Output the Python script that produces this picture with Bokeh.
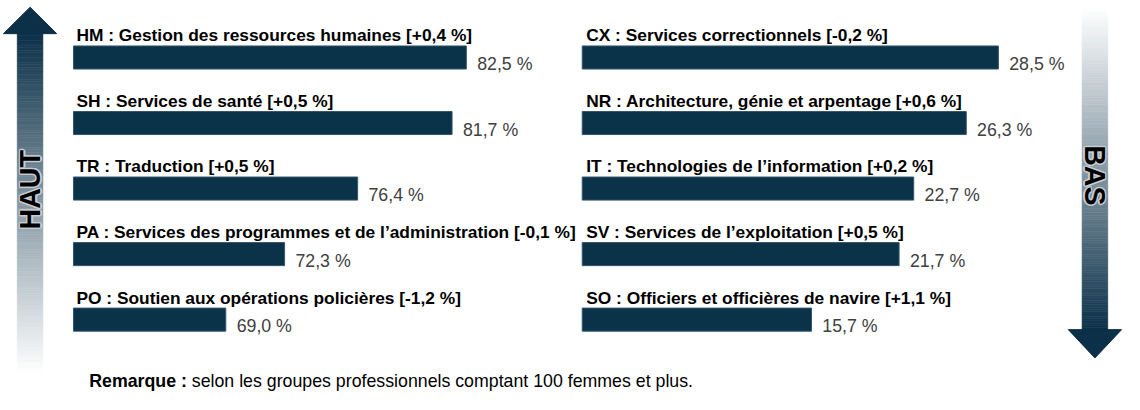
import numpy as np
from bokeh.plotting import figure
from bokeh.models import Range1d
from bokeh.core.properties import value
from bokeh.embed import file_html
from bokeh.resources import INLINE

# ---------------- data ----------------
left_codes = ["HM", "SH", "TR", "PA", "PO"]
left_names = ["Gestion des ressources humaines", "Services de santé", "Traduction",
              "Services des programmes et de l’administration",
              "Soutien aux opérations policières"]
left_values = [82.5, 81.7, 76.4, 72.3, 69.0]
left_changes = ["+0,4", "+0,5", "+0,5", "-0,1", "-1,2"]

right_codes = ["CX", "NR", "IT", "SV", "SO"]
right_names = ["Services correctionnels", "Architecture, génie et arpentage",
               "Technologies de l’information", "Services de l’exploitation",
               "Officiers et officières de navire"]
right_values = [28.5, 26.3, 22.7, 21.7, 15.7]
right_changes = ["-0,2", "+0,6", "+0,2", "+0,5", "+1,1"]

up_label = "HAUT"
down_label = "BAS"
note_bold = "Remarque :"
note_text = "selon les groupes professionnels comptant 100 femmes et plus."

# ---------------- style / layout ----------------
FONT = value("Liberation Sans")
BAR = "#0a3249"
DARK = (11, 48, 72)
W, H = 1124, 394            # canvas size in screen px
RW, RH = 1140, 410          # layout units used for placement
SX, SY = W / RW, H / RH


def fs(px):
    return f"{px * SX:.2f}px"


L_X0, L_BASE, L_PX = 74.0, 60.45, 18.07
R_X0, R_PX = 590.0, 14.81
ROW0, ROW_PX = 59.3, 68.2
BAR_H = 24.0 / ROW_PX

p = figure(width=W, height=H, x_range=Range1d(0, RW), y_range=Range1d(RH, 0),
           output_backend="svg", toolbar_location=None, min_border=0,
           x_axis_location=None, y_axis_location=None, outline_line_color=None,
           background_fill_color="white", border_fill_color="white")
p.grid.visible = False

p.extra_x_ranges["L"] = Range1d(L_BASE + (0 - L_X0) / L_PX, L_BASE + (RW - L_X0) / L_PX)
p.extra_x_ranges["R"] = Range1d((0 - R_X0) / R_PX, (RW - R_X0) / R_PX)
p.extra_y_ranges["rows"] = Range1d((RH - ROW0) / ROW_PX, (0 - ROW0) / ROW_PX)


def pct(v):
    return f"{v:.1f}".replace(".", ",") + " %"


def panel(codes, names, vals, chgs, xr, base, label_dx):
    rows = list(range(len(vals)))
    p.hbar(y=rows, left=base, right=vals, height=BAR_H, fill_color=BAR,
           line_color="#34566d", line_width=1, x_range_name=xr, y_range_name="rows")
    labels = [f"{c} : {n} [{d} %]" for c, n, d in zip(codes, names, chgs)]
    p.text(x=[base] * len(vals), y=rows, text=labels, x_offset=label_dx * SX,
           y_offset=-23 * SY, text_font=FONT, text_font_style="bold",
           text_font_size=fs(17.6), text_baseline="alphabetic", text_color="black",
           x_range_name=xr, y_range_name="rows")
    p.text(x=vals, y=rows, text=[pct(v) for v in vals], x_offset=11 * SX, y_offset=7 * SY,
           text_font=FONT, text_font_size=fs(18), text_baseline="alphabetic",
           text_color="#404040", x_range_name=xr, y_range_name="rows")


panel(left_codes, left_names, left_values, left_changes, "L", L_BASE, 3)
panel(right_codes, right_names, right_values, right_changes, "R", 0, 4)


# ---------------- arrows (decoration) ----------------
def mix(t):
    t = min(max(t, 0.0), 1.0)
    c = [int(round(d + (255 - d) * t)) for d in DARK]
    return "#%02x%02x%02x" % tuple(c)


def shaft(xl, xr, y_dark, y_light, n=140):
    edges = np.linspace(y_dark, y_light, n + 1)
    tops, bots, cols = [], [], []
    for i in range(n):
        tops.append(edges[i])
        bots.append(edges[i + 1])
        cols.append(mix((i + 0.5) / n))
    p.quad(left=xl, right=xr, top=tops, bottom=bots, fill_color=cols, line_color=cols,
           line_width=0.6)


# left arrow (up)
shaft(17, 43, 34, 388)
p.patch([3, 57, 30], [34.5, 34.5, 7], fill_color=mix(0), line_color=mix(0))
# right arrow (down)
shaft(1097, 1123, 343, 8)
p.patch([1083, 1137, 1110], [342.5, 342.5, 372], fill_color=mix(0), line_color=mix(0))

offs = [(-1.5, 0), (1.5, 0), (0, -1.5), (0, 1.5), (-1.1, -1.1), (1.1, 1.1), (-1.1, 1.1), (1.1, -1.1)]
for txt, cx, cy, ang in [(up_label, 30, 197, np.pi / 2), (down_label, 1110, 182, -np.pi / 2)]:
    p.text(x=[cx] * len(offs), y=[cy] * len(offs), text=[txt] * len(offs),
           x_offset=[o[0] for o in offs], y_offset=[o[1] for o in offs], angle=ang,
           text_font=FONT, text_font_style="bold", text_font_size=fs(29),
           text_align="center", text_baseline="middle", text_color="#c8cdd2")
    p.text(x=[cx], y=[cy], text=[txt], angle=ang, text_font=FONT, text_font_style="bold",
           text_font_size=fs(29), text_align="center", text_baseline="middle",
           text_color="black")

# ---------------- note ----------------
p.text(x=[90], y=[396], text=[note_bold], text_font=FONT, text_font_style="bold",
       text_font_size=fs(18), text_baseline="alphabetic", text_color="black")
p.text(x=[90 + 5.501 * 18 + 0.278 * 18], y=[396], text=[note_text], text_font=FONT,
       text_font_size=fs(18), text_baseline="alphabetic", text_color="black")

open("out.html", "w").write(file_html(p, INLINE))
